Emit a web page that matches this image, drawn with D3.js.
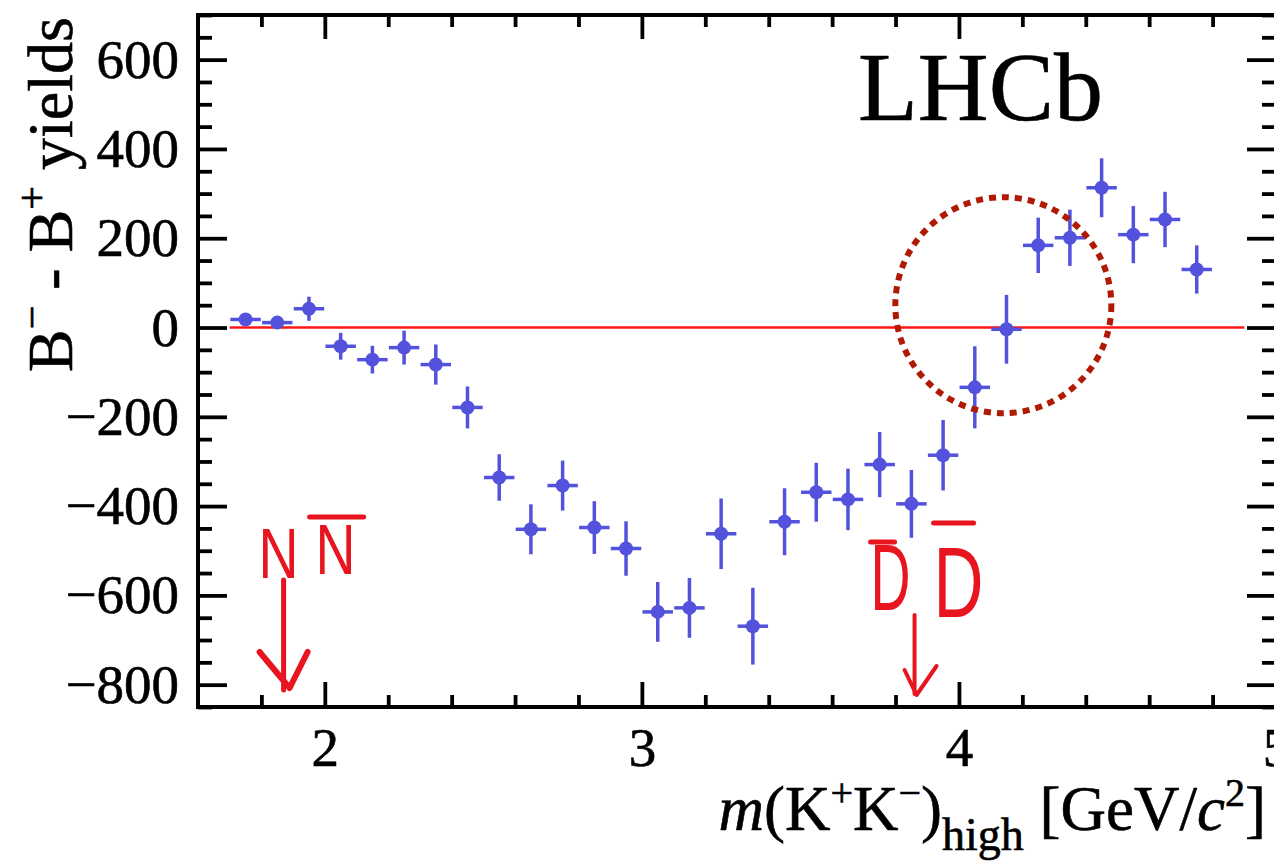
<!DOCTYPE html>
<html>
<head>
<meta charset="utf-8">
<script src="https://cdn.jsdelivr.net/npm/d3@7"></script>
<style>
  body { margin: 0; background: #fff; }
  svg text { font-family: "Liberation Serif", "Times New Roman", serif; }
</style>
</head>
<body>
<div class="chart"></div>
<script>
// bin centres of m(K+K-)_high [GeV/c^2]
var massBins = [1.75, 1.85, 1.95, 2.05, 2.15, 2.25, 2.35, 2.45, 2.55, 2.65, 2.75,
                2.85, 2.95, 3.05, 3.15, 3.25, 3.35, 3.45, 3.55, 3.65, 3.75, 3.85,
                3.95, 4.05, 4.15, 4.25, 4.35, 4.45, 4.55, 4.65, 4.75];
// B- minus B+ yields
var yieldDiff = [18, 11, 42, -42, -72, -45, -83, -179, -336, -452, -354,
                 -448, -495, -637, -628, -462, -669, -435, -369, -385, -307, -395,
                 -286, -134, -4, 184, 201, 313, 208, 242, 130];
var yieldErr = [12, 12, 27, 30, 31, 38, 45, 47, 52, 56, 56,
                59, 61, 67, 67, 79, 86, 75, 66, 69, 73, 76,
                79, 92, 77, 62, 63, 66, 64, 62, 54];
var binHalf = 0.048;

var xMajor = [2, 3, 4, 5];
var xMinor = [1.8, 2.2, 2.4, 2.6, 2.8, 3.2, 3.4, 3.6, 3.8, 4.2, 4.4, 4.6, 4.8];
var yMajor = [-800, -600, -400, -200, 0, 200, 400, 600];
var yMinor = d3.range(-850, 701, 50).filter(function(v) { return v % 200 !== 0; });

var zeroLine = [1.7, 4.9];
var nnThreshold = 1.87;   // hand-drawn arrow positions
var ddThreshold = 3.86;

var width = 1274, height = 865;
var padLeft = 198, padRight = 1276, padTop = 15, padBottom = 707;

var svg = d3.select(".chart").append("svg")
    .attr("width", width)
    .attr("height", height);

var x = d3.scaleLinear().domain([1.6, 5.0]).range([padLeft, padRight]);
var y = d3.scaleLinear().domain([-850, 700]).range([padBottom, padTop]);

//////// axes (ticks inward on all four sides)
function styleAxis(g) {
    g.select(".domain").remove();
    g.selectAll(".tick line").attr("stroke", "#000").attr("stroke-width", 3.8);
    g.selectAll(".tick text").attr("fill", "#000")
        .attr("stroke", "#000").attr("stroke-width", 0.6)
        .style("font-size", "55px")
        .style("font-family", "'Liberation Serif', 'Times New Roman', serif");
}

svg.append("g").attr("transform", "translate(0," + padBottom + ")")
    .call(d3.axisBottom(x).tickValues(xMajor).tickSize(-25).tickPadding(20).tickFormat(d3.format("d")))
    .call(styleAxis);
svg.append("g").attr("transform", "translate(0," + padBottom + ")")
    .call(d3.axisBottom(x).tickValues(xMinor).tickSize(-12).tickFormat(""))
    .call(styleAxis);
svg.append("g").attr("transform", "translate(0," + padTop + ")")
    .call(d3.axisTop(x).tickValues(xMajor).tickSize(-24).tickFormat(""))
    .call(styleAxis);
svg.append("g").attr("transform", "translate(0," + padTop + ")")
    .call(d3.axisTop(x).tickValues(xMinor).tickSize(-12).tickFormat(""))
    .call(styleAxis);

svg.append("g").attr("transform", "translate(" + padLeft + ",0)")
    .call(d3.axisLeft(y).tickValues(yMajor).tickSize(-29).tickPadding(19))
    .call(styleAxis);
svg.append("g").attr("transform", "translate(" + padLeft + ",0)")
    .call(d3.axisLeft(y).tickValues(yMinor).tickSize(-14).tickFormat(""))
    .call(styleAxis);
svg.append("g").attr("transform", "translate(" + padRight + ",0)")
    .call(d3.axisRight(y).tickValues(yMajor).tickSize(-29).tickFormat(""))
    .call(styleAxis);
svg.append("g").attr("transform", "translate(" + padRight + ",0)")
    .call(d3.axisRight(y).tickValues(yMinor).tickSize(-14).tickFormat(""))
    .call(styleAxis);

// frame
svg.append("rect")
    .attr("x", padLeft).attr("y", padTop)
    .attr("width", padRight - padLeft).attr("height", padBottom - padTop)
    .attr("fill", "none").attr("stroke", "#000").attr("stroke-width", 4);

//////// zero line
svg.append("line")
    .attr("x1", x(zeroLine[0])).attr("x2", x(zeroLine[1]))
    .attr("y1", y(0)).attr("y2", y(0))
    .attr("stroke", "#ff1414").attr("stroke-width", 2.5);

//////// data points with error bars
var blue = "#5252dc";
var pts = svg.append("g").selectAll("g")
    .data(massBins.map(function(m, i) { return {m: m, v: yieldDiff[i], e: yieldErr[i]}; }))
    .enter().append("g");

pts.append("line")
    .attr("x1", function(d) { return x(d.m); }).attr("x2", function(d) { return x(d.m); })
    .attr("y1", function(d) { return y(d.v - d.e); }).attr("y2", function(d) { return y(d.v + d.e); })
    .attr("stroke", blue).attr("stroke-width", 3.5);
pts.append("line")
    .attr("x1", function(d) { return x(d.m - binHalf); }).attr("x2", function(d) { return x(d.m + binHalf); })
    .attr("y1", function(d) { return y(d.v); }).attr("y2", function(d) { return y(d.v); })
    .attr("stroke", blue).attr("stroke-width", 3.5);
pts.append("circle")
    .attr("cx", function(d) { return x(d.m); })
    .attr("cy", function(d) { return y(d.v); })
    .attr("r", 7)
    .attr("fill", blue);

//////// LHCb label
svg.append("text")
    .attr("x", 858).attr("y", 120)
    .attr("stroke", "#000").attr("stroke-width", 0.6)
    .style("font-size", "98px")
    .text("LHCb");

//////// axis titles
var yTitle = svg.append("text")
    .attr("transform", "translate(72,372) rotate(-90)")
    .attr("stroke", "#000").attr("stroke-width", 0.6)
    .style("font-size", "64px");
yTitle.append("tspan").text("B");
yTitle.append("tspan").attr("dy", -26).style("font-size", "42px").text("\u2212");
yTitle.append("tspan").attr("dy", 26).text(" - B");
yTitle.append("tspan").attr("dy", -26).style("font-size", "42px").text("+");
yTitle.append("tspan").attr("dy", 26).text(" yields");

var xTitle = svg.append("text")
    .attr("x", 1266).attr("y", 830)
    .attr("text-anchor", "end")
    .attr("stroke", "#000").attr("stroke-width", 0.6)
    .style("font-size", "63px");
xTitle.append("tspan").style("font-style", "italic").text("m");
xTitle.append("tspan").text("(K");
xTitle.append("tspan").attr("dy", -24).style("font-size", "40px").text("+");
xTitle.append("tspan").attr("dy", 24).text("K");
xTitle.append("tspan").attr("dy", -24).style("font-size", "40px").text("\u2212");
xTitle.append("tspan").attr("dy", 24).text(")");
xTitle.append("tspan").attr("dy", 20).style("font-size", "46px").text("high");
xTitle.append("tspan").attr("dy", -20).text(" [GeV/");
xTitle.append("tspan").style("font-style", "italic").text("c");
xTitle.append("tspan").attr("dy", -24).style("font-size", "40px").text("2");
xTitle.append("tspan").attr("dy", 24).text("]");

//////// hand-drawn annotations
var red = "#e8141f";
var circleRed = "#b01a04";

svg.append("circle")
    .attr("cx", x(4.14)).attr("cy", y(50))
    .attr("r", 108)
    .attr("fill", "none")
    .attr("stroke", circleRed)
    .attr("stroke-width", 6)
    .attr("stroke-dasharray", "7,6");

var annot = svg.append("g").attr("fill", red);

function handLetter(letter, xPos, baseY, w, size) {
    annot.append("text")
        .attr("x", xPos).attr("y", baseY)
        .attr("textLength", w).attr("lengthAdjust", "spacingAndGlyphs")
        .style("font-size", size + "px")
        .style("font-family", "'Liberation Sans', Arial, sans-serif")
        .text(letter);
}
function redStroke(points, w) {
    svg.append("path")
        .attr("d", d3.line()(points))
        .attr("fill", "none").attr("stroke", red)
        .attr("stroke-width", w)
        .attr("stroke-linecap", "round").attr("stroke-linejoin", "round");
}

// N Nbar
var nx = x(nnThreshold);
handLetter("N", nx - 25, 578, 40, 71);
handLetter("N", nx + 32, 574, 40, 71);
redStroke([[nx + 26, 517], [nx + 80, 517]], 5);
redStroke([[nx, 580], [nx, 690]], 5);
redStroke([[nx - 24, 652], [nx + 6, 688], [nx + 24, 652]], 6);

// D Dbar
var dx = x(ddThreshold);
handLetter("D", dx - 44, 610, 40, 95);
handLetter("D", dx + 19, 617, 50, 100);
redStroke([[dx - 44, 542], [dx - 20, 542]], 5);
redStroke([[dx + 19, 523], [dx + 59, 523]], 5);
redStroke([[dx, 615], [dx, 694]], 4);
redStroke([[dx - 10, 670], [dx + 2, 695], [dx + 22, 666]], 4);
</script>
</body>
</html>
